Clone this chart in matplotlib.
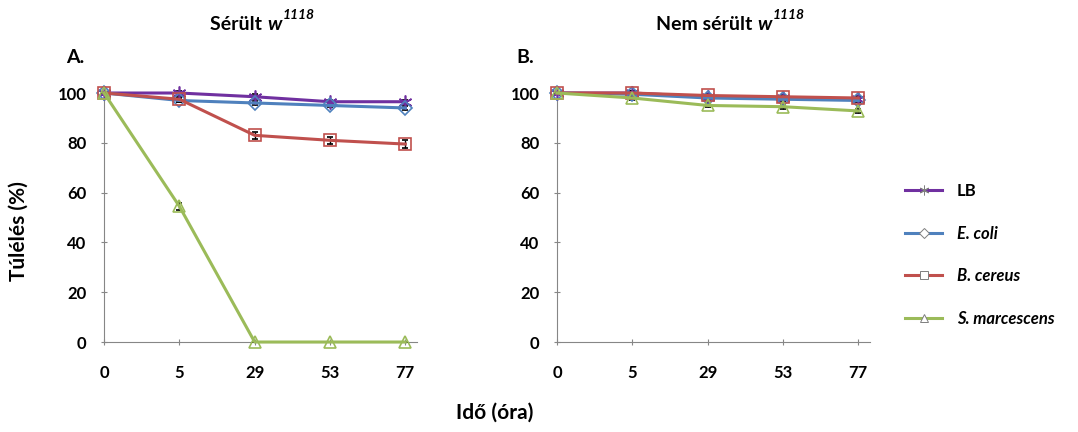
import matplotlib.pyplot as plt
from matplotlib.lines import Line2D
import numpy as np

plt.rcParams['font.family'] = ['Lato', 'DejaVu Sans']
plt.rcParams['font.weight'] = 'bold'

# time points (hours) shown as evenly spaced categories
hours = ['0', '5', '29', '53', '77']
series = ['LB', 'E. coli', 'B. cereus', 'S. marcescens']

# panel A - injured flies
injured_lb = [100, 100, 98.5, 96.5, 96.5]
injured_ecoli = [100, 97, 96, 95, 94]
injured_bcereus = [100, 97.5, 83, 81, 79.5]
injured_smarc = [100, 54.5, 0, 0, 0]
injured_err = [[0, 0.8, 1.0, 0.8, 0.8],
               [0, 0.8, 0.8, 0.8, 0.8],
               [0, 1.0, 1.5, 1.5, 1.5],
               [0, 1.5, 0, 0, 0]]

# panel B - uninjured flies
intact_lb = [100, 100, 98.5, 98, 97.5]
intact_ecoli = [100, 99.5, 98, 97.5, 97]
intact_bcereus = [100, 100, 99, 98.5, 98]
intact_smarc = [100, 98, 95, 94.5, 92.8]
intact_err = [[0, 0.8, 0.8, 0.8, 0.8],
              [0, 0.8, 0.8, 0.8, 0.8],
              [0, 0.8, 0.8, 0.8, 0.8],
              [0, 0.8, 0.8, 0.8, 0.8]]

colours = ['#7030A0', '#4F81BD', '#C0504D', '#9BBB59']
markers = [(6, 2, 0), 'D', 's', '^']
msizes = [10, 7, 9, 9]

fig = plt.figure(figsize=(10.78, 4.32), dpi=100)
ax1 = fig.add_axes([0.0965, 0.2083, 0.290, 0.5764])
ax2 = fig.add_axes([0.5167, 0.2083, 0.290, 0.5764])

x = np.arange(len(hours))
panels = [(ax1, [injured_lb, injured_ecoli, injured_bcereus, injured_smarc], injured_err),
          (ax2, [intact_lb, intact_ecoli, intact_bcereus, intact_smarc], intact_err)]

for ax, data, errs in panels:
    for vals, err, col, mk, ms in zip(data, errs, colours, markers, msizes):
        ax.errorbar(x, vals, yerr=err, color=col, lw=2.2,
                    marker=mk, ms=ms, mfc='none', mec=col, mew=1.2,
                    ecolor='black', elinewidth=1, capsize=2,
                    clip_on=False, zorder=3)
    ax.set_xlim(0, 4.15)
    ax.set_ylim(0, 100)
    ax.set_yticks(range(0, 101, 20))
    ax.set_xticks(x)
    ax.set_xticklabels(hours)
    ax.spines['top'].set_visible(False)
    ax.spines['right'].set_visible(False)
    ax.spines['left'].set_color('#868686')
    ax.spines['bottom'].set_color('#868686')
    ax.tick_params(axis='both', labelsize=12, color='#868686', length=5,
                   direction='inout')
    ax.tick_params(axis='x', pad=14)
    ax.tick_params(axis='y', pad=10)


def title_with_sup(xc, y, words):
    # "words w^1118" with italic w and italic superscript
    t1 = fig.text(0, y, words + ' ', fontsize=14, fontweight='bold', va='baseline')
    t2 = fig.text(0, y, 'w', fontsize=14, fontweight='bold', style='italic', va='baseline')
    t3 = fig.text(0, y, '1118', fontsize=10, fontweight='bold', style='italic', va='baseline')
    fig.canvas.draw()
    r = fig.canvas.get_renderer()
    w1 = t1.get_window_extent(r).width / fig.bbox.width
    w2 = t2.get_window_extent(r).width / fig.bbox.width
    w3 = t3.get_window_extent(r).width / fig.bbox.width
    x0 = xc - (w1 + w2 + w3) / 2
    t1.set_x(x0)
    t2.set_x(x0 + w1)
    t3.set_x(x0 + w1 + w2 + 0.001)
    t3.set_y(y + 0.025)


title_with_sup(0.243, 0.93, 'Sérült')
title_with_sup(0.677, 0.93, 'Nem sérült')
fig.text(0.07, 0.868, 'A.', ha='center', va='center', fontsize=14, fontweight='bold')
fig.text(0.487, 0.868, 'B.', ha='center', va='center', fontsize=14, fontweight='bold')
fig.text(0.017, 0.465, 'Túlélés (%)', rotation=90, ha='center', va='center',
         fontsize=15, fontweight='bold')
fig.text(0.459, 0.045, 'Idő (óra)', ha='center', va='center',
         fontsize=15, fontweight='bold')

handles = [Line2D([], [], color=col, lw=2.2, marker=mk, ms=ms * 0.7,
                  mfc='white', mec='#7f7f7f', mew=0.7)
           for col, mk, ms in zip(colours, markers, msizes)]
leg = fig.legend(handles, series, loc='center left', bbox_to_anchor=(0.826, 0.41),
                 frameon=False, fontsize=12, labelspacing=1.6, handlelength=2.2,
                 handletextpad=0.9)
for t in leg.get_texts()[1:]:
    t.set_fontstyle('italic')

fig.savefig('out.png', dpi=100)
